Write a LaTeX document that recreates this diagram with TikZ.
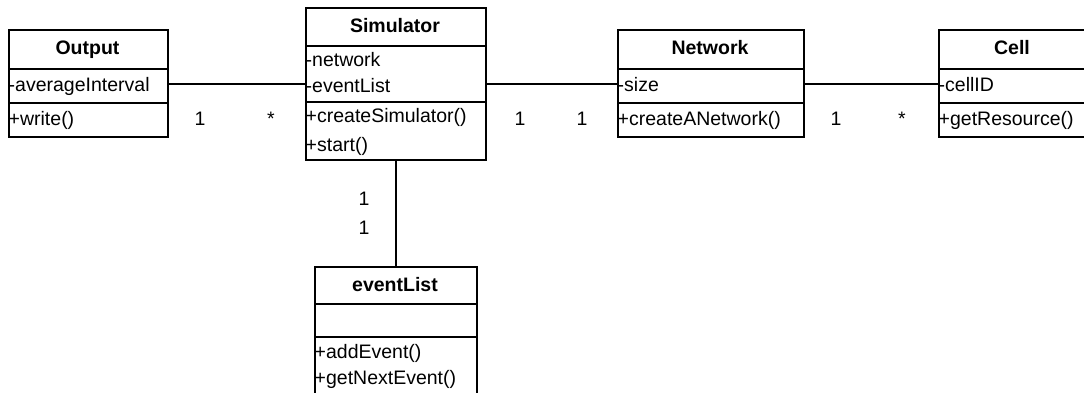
\documentclass[tikz,border=0pt]{standalone}
\usepackage{fontspec}
\setmainfont{Liberation Sans}
\begin{document}
\begin{tikzpicture}[x=1pt,y=-1pt,
  classbox/.style={draw, line width=2pt, anchor=north west, inner sep=0pt, fill=white},
  sep/.style={line width=2pt},
  conn/.style={line width=2pt},
  ctitle/.style={anchor=base, inner sep=0pt, font=\bfseries\fontsize{19.5}{22}\selectfont},
  member/.style={anchor=base west, inner sep=0pt, font=\fontsize{19.5}{22}\selectfont},
  mult/.style={anchor=base, inner sep=0pt, font=\fontsize{19.5}{22}\selectfont}]
\useasboundingbox (0,0) rectangle (1084,393);
\fill[white] (0,0) rectangle (1084,393);
\clip (0,0) rectangle (1084,393);
% Output
\node[classbox, minimum width=159pt, minimum height=107pt] (output) at (8,29) {};
\draw[sep] (8,69) -- (167,69);
\draw[sep] (8,103) -- (167,103);
\node[ctitle] (outT) at (87.5,55) {Output};
\node[member] (outA) at (8.5,92) {-averageInterval};
\node[member] (outM) at (8.5,125) {+write()};
% Simulator
\node[classbox, minimum width=180pt, minimum height=152pt] (sim) at (305,7) {};
\draw[sep] (305,46) -- (485,46);
\draw[sep] (305,102) -- (485,102);
\node[ctitle] (simT) at (395,33) {Simulator};
\node[member] (simA1) at (305.5,67) {-network};
\node[member] (simA2) at (305.5,93) {-eventList};
\node[member] (simM1) at (305.5,123) {+createSimulator()};
\node[member] (simM2) at (305.5,151) {+start()};
% Network
\node[classbox, minimum width=186pt, minimum height=107pt] (net) at (617,29) {};
\draw[sep] (617,69) -- (803,69);
\draw[sep] (617,103) -- (803,103);
\node[ctitle] (netT) at (710,55) {Network};
\node[member] (netA) at (617.5,92) {-size};
\node[member] (netM) at (617.5,125) {+createANetwork()};
% Cell
\node[classbox, minimum width=152pt, minimum height=107pt] (cell) at (938,29) {};
\draw[sep] (938,69) -- (1090,69);
\draw[sep] (938,103) -- (1090,103);
\node[ctitle] (cellT) at (1012,55) {Cell};
\node[member] (cellA) at (938.5,92) {-cellID};
\node[member] (cellM) at (938.5,125) {+getResource()};
% eventList
\node[classbox, minimum width=162pt, minimum height=134pt] (ev) at (314,266) {};
\draw[sep] (314,304) -- (476,304);
\draw[sep] (314,337) -- (476,337);
\node[ctitle] (evT) at (395,291) {eventList};
\node[member] (evM1) at (314.5,358) {+addEvent()};
\node[member] (evM2) at (314.5,384) {+getNextEvent()};
% connectors
\coordinate (c1) at (0,84);
\draw[conn] (output.east |- c1) -- (sim.west |- c1);
\draw[conn] (sim.east |- c1) -- (net.west |- c1);
\draw[conn] (net.east |- c1) -- (cell.west |- c1);
\coordinate (c2) at (396,0);
\draw[conn] (sim.south -| c2) -- (ev.north -| c2);
% multiplicities
\node[mult] (m1) at (200,126) {1};
\node[mult] (m2) at (271,126) {*};
\node[mult] (m3) at (520,126) {1};
\node[mult] (m4) at (582,126) {1};
\node[mult] (m5) at (836,126) {1};
\node[mult] (m6) at (902,126) {*};
\node[mult] (m7) at (364,205) {1};
\node[mult] (m8) at (364,234) {1};
\end{tikzpicture}
\end{document}
